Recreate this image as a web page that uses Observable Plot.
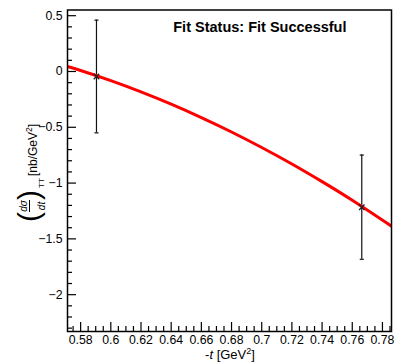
<!DOCTYPE html>
<html>
<head>
<meta charset="utf-8">
<script src="https://cdn.jsdelivr.net/npm/d3@7"></script>
<script src="https://cdn.jsdelivr.net/npm/@observablehq/plot@0.6"></script>
<style>
  html, body { margin: 0; padding: 0; background: #fff; }
  #chart { width: 397px; height: 364px; }
</style>
</head>
<body>
<div id="chart"></div>
<script>
// Data points (-t, value, error)
const pointT = [0.5905, 0.7663];
const pointValue = [-0.045, -1.216];
const pointError = [0.505, 0.467];

// Fit curve
const fitT = [0.5713, 0.58, 0.60, 0.62, 0.64, 0.66, 0.68, 0.70, 0.72, 0.74, 0.76, 0.786];
const fitValue = [0.045, 0.009, -0.082, -0.183, -0.293, -0.413, -0.542, -0.681, -0.829, -0.987, -1.154, -1.386];

// Axis ticks
const xMajorTicks = [0.58, 0.60, 0.62, 0.64, 0.66, 0.68, 0.70, 0.72, 0.74, 0.76, 0.78];
const xMinorTicks = [0.575, 0.585, 0.59, 0.595, 0.605, 0.61, 0.615, 0.625, 0.63, 0.635, 0.645, 0.65, 0.655,
  0.665, 0.67, 0.675, 0.685, 0.69, 0.695, 0.705, 0.71, 0.715, 0.725, 0.73, 0.735, 0.745, 0.75, 0.755,
  0.765, 0.77, 0.775, 0.785];
const yMajorTicks = [0.5, 0, -0.5, -1, -1.5, -2];
const yMinorTicks = [0.4, 0.3, 0.2, 0.1, -0.1, -0.2, -0.3, -0.4, -0.6, -0.7, -0.8, -0.9, -1.1, -1.2, -1.3, -1.4,
  -1.6, -1.7, -1.8, -1.9, -2.1, -2.2, -2.3];
const xDomain = [0.5713, 0.786];
const yDomain = [-2.33, 0.551];

const fitStatus = "Fit Status: Fit Successful";

const points = pointT.map((t, i) => ({t, v: pointValue[i], lo: pointValue[i] - pointError[i], hi: pointValue[i] + pointError[i]}));
const fit = fitT.map((t, i) => ({t, v: fitValue[i]}));

const capSymbol = {
  draw(context, size) {
    const r = Math.sqrt(size) / 2;
    context.moveTo(-r, 0);
    context.lineTo(r, 0);
  }
};

const fmt = d => String(+(+d).toFixed(3)).replace("-", "\u2212");
const font = "'Liberation Sans', Arial, Helvetica, sans-serif";

const svg = Plot.plot({
  width: 397,
  height: 364,
  marginLeft: 67,
  marginRight: 6,
  marginTop: 9.5,
  marginBottom: 33,
  style: {fontFamily: font, fontSize: "12.3px", color: "#000", background: "#fff"},
  x: {domain: xDomain},
  y: {domain: yDomain},
  marks: [
    Plot.axisY({ticks: yMinorTicks, tickSize: -5, tickFormat: () => "", label: null, strokeWidth: 1.2}),
    Plot.axisY({ticks: yMajorTicks, tickSize: -9, tickPadding: 14, tickFormat: fmt, label: null, strokeWidth: 1.2}),
    Plot.axisX({ticks: xMinorTicks, tickSize: -5, tickFormat: () => "", label: null, strokeWidth: 1.2}),
    Plot.axisX({ticks: xMajorTicks, tickSize: -9, tickPadding: 13, tickFormat: fmt, label: null, strokeWidth: 1.2}),
    Plot.ruleX(points, {x: "t", y1: "lo", y2: "hi", stroke: "#111", strokeWidth: 1.2}),
    Plot.dot(points, {x: "t", y: "lo", symbol: capSymbol, r: 2.3, stroke: "#111", strokeWidth: 1.2}),
    Plot.dot(points, {x: "t", y: "hi", symbol: capSymbol, r: 2.3, stroke: "#111", strokeWidth: 1.2}),
    Plot.line(fit, {x: "t", y: "v", stroke: "#ff0000", strokeWidth: 3, curve: "natural", clip: true}),
    Plot.dot(points, {x: "t", y: "v", symbol: "times", r: 2.6, stroke: "#222", strokeWidth: 1.3}),
    Plot.text([fitStatus], {frameAnchor: "top-right", dx: -45, dy: 11.5, lineAnchor: "top", textAnchor: "end",
      fontWeight: "bold", fontSize: 14.5, fill: "#000", style: "letter-spacing:0.2px"}),
    Plot.frame({stroke: "#000", strokeWidth: 1.5})
  ]
});

const s = d3.select(svg);
// x-axis title
const xt = s.append("text").attr("x", 230).attr("y", 359).attr("text-anchor", "middle")
  .style("font-family", font).style("font-size", "13px").attr("fill", "#000");
xt.append("tspan").text("-");
xt.append("tspan").attr("font-style", "italic").text("t");
xt.append("tspan").text(" [GeV");
xt.append("tspan").attr("font-size", "9px").attr("dy", -5).text("2");
xt.append("tspan").attr("dy", 5).text("]");

// y-axis title: units
const yu = s.append("text").attr("transform", "translate(37,176) rotate(-90)").attr("text-anchor", "start")
  .style("font-family", font).style("font-size", "12px").attr("fill", "#000");
yu.append("tspan").text("[nb/GeV");
yu.append("tspan").attr("font-size", "8.5px").attr("dy", -5).text("2");
yu.append("tspan").attr("dy", 5).text("]");

// y-axis title: (dσ/dt)_TT
const g = s.append("g").attr("transform", "translate(31,206) rotate(-90)")
  .style("font-family", font).attr("fill", "#000");
g.append("text").attr("x", -16).attr("y", 8).attr("text-anchor", "start").style("font-size", "30px").text("(");
g.append("text").attr("x", 16).attr("y", 8).attr("text-anchor", "end").style("font-size", "30px").text(")");
g.append("text").attr("x", 0).attr("y", -4).attr("text-anchor", "middle").style("font-size", "10px").attr("font-style", "italic").text("dσ");
g.append("line").attr("x1", -6).attr("x2", 6).attr("y1", -1.5).attr("y2", -1.5).attr("stroke", "#000").attr("stroke-width", 1);
g.append("text").attr("x", 0).attr("y", 6.5).attr("text-anchor", "middle").style("font-size", "10px").attr("font-style", "italic").attr("dominant-baseline", "hanging").text("dt");
g.append("text").attr("x", 18).attr("y", 12.5).attr("text-anchor", "start").style("font-size", "8px").text("TT");

document.getElementById("chart").appendChild(svg);
</script>
</body>
</html>
